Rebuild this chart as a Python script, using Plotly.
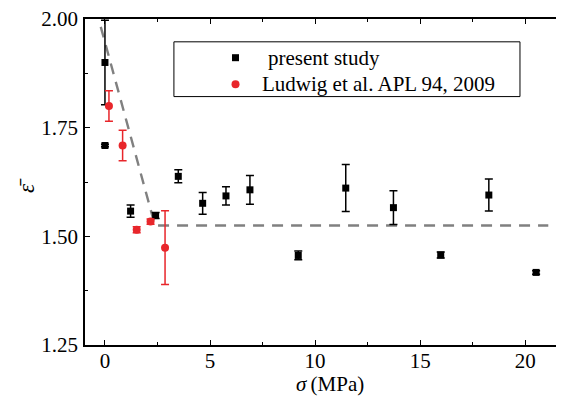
import plotly.graph_objects as go

# present study
ps_x = [0.0, 0.0, 1.22, 2.41, 3.49, 4.65, 5.76, 6.9, 9.2, 11.46, 13.73, 15.98, 18.27, 20.52]
ps_y = [1.900, 1.709, 1.558, 1.548, 1.638, 1.576, 1.593, 1.607, 1.456, 1.611, 1.566, 1.457, 1.595, 1.417]
ps_err = [0.097, 0.003, 0.014, 0.007, 0.015, 0.025, 0.021, 0.033, 0.010, 0.054, 0.039, 0.007, 0.037, 0.004]

# Ludwig et al.
lu_x = [0.19, 0.84, 1.51, 2.17, 2.86]
lu_y = [1.800, 1.709, 1.515, 1.534, 1.474]
lu_err = [0.035, 0.035, 0.007, 0.006, 0.085]

# guide line
guide_x = [-0.2, 2.38, 21.1]
guide_y = [1.982, 1.525, 1.525]

x_ticks = [0, 5, 10, 15, 20]
y_ticks = [1.25, 1.50, 1.75, 2.00]
y_tick_text = ["1.25", "1.50", "1.75", "2.00"]

legend_names = ["present study", "Ludwig et al. APL 94, 2009"]

RED = "#e8262b"
FONT = "Liberation Serif"

fig = go.Figure()
fig.add_trace(go.Scatter(
    x=guide_x, y=guide_y, mode="lines",
    line=dict(color="#808080", width=2.4, dash="11px,8px"),
    showlegend=False, hoverinfo="skip"))
fig.add_trace(go.Scatter(
    x=ps_x, y=ps_y, mode="markers", name=legend_names[0], showlegend=False,
    marker=dict(symbol="square", size=7, color="black"),
    error_y=dict(type="data", array=ps_err, color="black", thickness=1.5, width=4)))
fig.add_trace(go.Scatter(
    x=lu_x, y=lu_y, mode="markers", name=legend_names[1], showlegend=False,
    marker=dict(symbol="circle", size=8, color=RED),
    error_y=dict(type="data", array=lu_err, color=RED, thickness=1.5, width=4)))

axis_common = dict(
    showline=True, linecolor="black", linewidth=1.5, mirror="ticks",
    ticks="inside", ticklen=5, tickwidth=1.3, tickcolor="black",
    showgrid=False, zeroline=False, automargin=False,
    ticklabeloverflow="allow",
    tickfont=dict(family=FONT, size=21, color="black"),
)

# legend drawn as a framed box with key symbols and text
ROW1, ROW2, KEY_X = 0.8813, 0.7997, 0.3149
legend_shapes = [
    dict(type="rect", xref="paper", yref="paper",
         x0=0.186, x1=0.910, y0=0.762, y1=0.930,
         line=dict(color="black", width=1), fillcolor="rgba(0,0,0,0)", layer="below"),
    dict(type="rect", xref="paper", yref="paper",
         xsizemode="pixel", ysizemode="pixel", xanchor=KEY_X, yanchor=ROW1,
         x0=-3.5, x1=3.5, y0=-3.5, y1=3.5,
         line=dict(width=0), fillcolor="black"),
    dict(type="circle", xref="paper", yref="paper",
         xsizemode="pixel", ysizemode="pixel", xanchor=KEY_X, yanchor=ROW2,
         x0=-4, x1=4, y0=-4, y1=4,
         line=dict(width=0), fillcolor=RED),
]

# the page body adds an 8px offset, so the figure is laid out 8px smaller
fig.update_layout(
    width=556, height=395,
    margin=dict(l=77, r=1, t=11, b=58),
    paper_bgcolor="white", plot_bgcolor="white",
    font=dict(family=FONT, size=21, color="black"),
    showlegend=False,
    xaxis=dict(range=[-0.95, 21.8], tickvals=x_ticks, ticklabelstandoff=-4,
               minor=dict(ticks="inside", ticklen=3, tickwidth=1.2, tickcolor="black", dtick=2.5, tick0=0),
               **axis_common),
    yaxis=dict(range=[1.25, 2.00], tickvals=y_ticks, ticktext=y_tick_text, ticklabelstandoff=1,
               minor=dict(ticks="inside", ticklen=3, tickwidth=1.2, tickcolor="black", dtick=0.125, tick0=1.25),
               **axis_common),
    shapes=legend_shapes,
    annotations=[
        dict(text=legend_names[0], xref="paper", yref="paper", x=0.3785, y=ROW1,
             xanchor="left", yanchor="middle", showarrow=False,
             font=dict(family=FONT, size=21)),
        dict(text=legend_names[1], xref="paper", yref="paper", x=0.366, y=ROW2,
             xanchor="left", yanchor="middle", showarrow=False,
             font=dict(family=FONT, size=21)),
        dict(text="<i>σ</i>\u2009(MPa)", xref="paper", yref="paper", x=0.5125, y=-0.1196,
             xanchor="center", yanchor="middle", showarrow=False,
             font=dict(family=FONT, size=21)),
        dict(text="<i>ε̄</i>", xref="paper", yref="paper", x=-0.121, y=0.488,
             xanchor="center", yanchor="middle", showarrow=False, textangle=-90,
             font=dict(family=FONT, size=23)),
    ],
)

fig.write_html("out.html")
